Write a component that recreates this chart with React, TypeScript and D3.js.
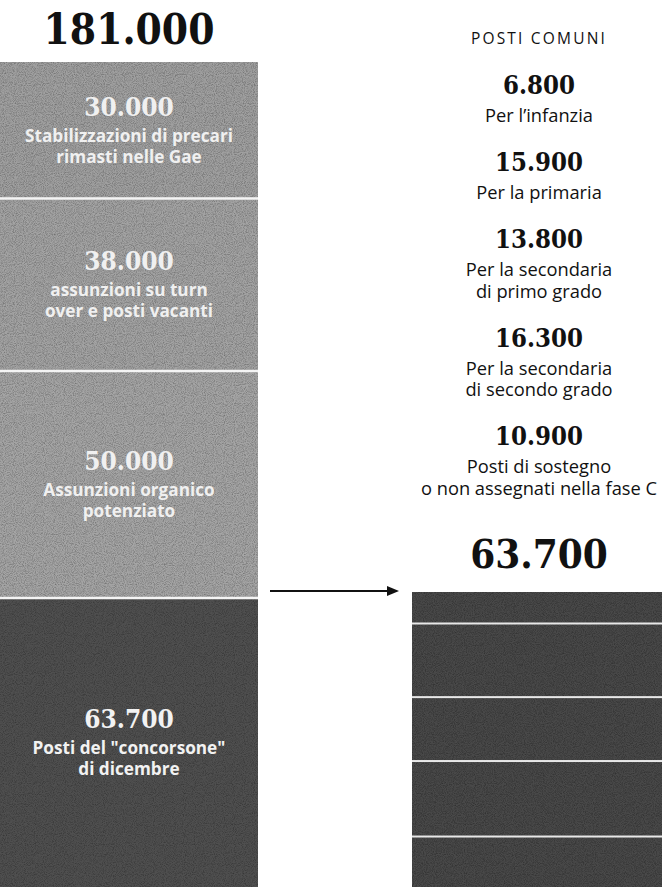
import React from "react";
import * as d3 from "d3";

const totalLabel = "181.000";
const leftValues = [30000, 38000, 50000, 63700];
const leftNumbers = ["30.000", "38.000", "50.000", "63.700"];
const leftLabels = [
  ["Stabilizzazioni di precari", "rimasti nelle Gae"],
  ["assunzioni su turn", "over e posti vacanti"],
  ["Assunzioni organico", "potenziato"],
  ["Posti del \"concorsone\"", "di dicembre"],
];

const rightTitle = "POSTI COMUNI";
const rightValues = [6800, 15900, 13800, 16300, 10900];
const rightNumbers = ["6.800", "15.900", "13.800", "16.300", "10.900"];
const rightLabels = [
  ["Per l\u2019infanzia"],
  ["Per la primaria"],
  ["Per la secondaria", "di primo grado"],
  ["Per la secondaria", "di secondo grado"],
  ["Posti di sostegno", "o non assegnati nella fase C"],
];
const rightTotalLabel = "63.700";

const W = 662;
const H = 887;
const SERIF = "'DejaVu Serif', 'Liberation Serif', serif";
const SANS = "'Open Sans', 'Noto Sans', sans-serif";

export default function App() {
  const leftTotal = d3.sum(leftValues);
  const yL = d3.scaleLinear().domain([0, leftTotal]).range([62, H]);
  const leftCum = d3.cumsum(leftValues);
  const leftSegs = leftValues.map((v, i) => ({
    y0: yL(leftCum[i] - v),
    y1: yL(leftCum[i]),
    i,
  }));

  const rightTotal = d3.sum(rightValues);
  const yR = d3.scaleLinear().domain([0, rightTotal]).range([592, H]);
  const rightCum = d3.cumsum(rightValues);
  const rightSegs = rightValues.map((v, i) => ({
    y0: yR(rightCum[i] - v),
    y1: yR(rightCum[i]),
  }));

  const xL = d3.scaleLinear().domain([0, 1]).range([0, 258]);
  const xR = d3.scaleLinear().domain([0, 1]).range([412, W]);
  const cxL = xL(0.5);
  const cxR = 539;

  let yCursor = 94;
  const rightBlocks = rightNumbers.map((n, i) => {
    const y = yCursor;
    yCursor += 28 + 21.5 * (rightLabels[i].length - 1) + 49;
    return { n, y, lines: rightLabels[i] };
  });

  const segFill = ["#a0a0a0", "#a3a3a3", "#a5a5a5", "#505050"];
  const textFill = ["#f0f0f0", "#f0f0f0", "#f0f0f0", "#f2f2f2"];

  return (
    <svg
      width={W}
      height={H}
      style={{ position: "absolute", left: 0, top: 0, background: "#fff" }}
    >
      <defs>
        <filter id="grain" x="0" y="0" width="100%" height="100%">
          <feTurbulence type="fractalNoise" baseFrequency="1.1" numOctaves="1" seed="5" result="noise" />
          <feColorMatrix
            in="noise"
            type="matrix"
            values="0 0 0 0 0  0 0 0 0 0  0 0 0 0 0  1.2 0 0 0 -0.45"
            result="dots"
          />
          <feComposite in="dots" in2="SourceGraphic" operator="atop" />
        </filter>
      </defs>
      <rect x={0} y={0} width={W} height={H} fill="#fff" />

      <text
        x={cxL}
        y={44}
        textAnchor="middle"
        fontFamily={SERIF}
        fontStretch="condensed"
        fontWeight="bold"
        fontSize={42}
        fill="#111"
      >
        {totalLabel}
      </text>

      {leftSegs.map((s) => (
        <rect
          key={"l" + s.i}
          x={xL(0)}
          y={s.y0}
          width={xL(1) - xL(0)}
          height={s.y1 - s.y0}
          fill={segFill[s.i]}
          filter="url(#grain)"
        />
      ))}
      {leftSegs.slice(1).map((s) => (
        <rect key={"ls" + s.i} x={xL(0)} y={s.y0 - 1} width={xL(1) - xL(0)} height={2.5} fill="#f4f4f4" />
      ))}
      {leftSegs.map((s) => {
        const mid = (s.y0 + s.y1) / 2;
        const by = mid - 14;
        return (
          <g key={"lt" + s.i} fill={textFill[s.i]} textAnchor="middle">
            <text x={cxL} y={by} fontFamily={SERIF} fontStretch="condensed" fontWeight="bold" fontSize={26}>
              {leftNumbers[s.i]}
            </text>
            {leftLabels[s.i].map((l, j) => (
              <text key={j} x={cxL} y={by + 26 + j * 21} fontFamily={SANS} fontWeight="bold" fontSize={17.2}>
                {l}
              </text>
            ))}
          </g>
        );
      })}

      <line x1={270} x2={390} y1={591} y2={591} stroke="#111" strokeWidth={2} />
      <path d="M387,586 L399,591 L387,596 Z" fill="#111" />

      <text x={cxR} y={44} textAnchor="middle" fontFamily={SANS} fontSize={15.5} letterSpacing={2.2} fill="#111">
        {rightTitle}
      </text>
      {rightBlocks.map((b, i) => (
        <g key={"rb" + i} textAnchor="middle" fill="#111">
          <text x={cxR} y={b.y} fontFamily={SERIF} fontStretch="condensed" fontWeight="bold" fontSize={25.5}>
            {b.n}
          </text>
          {b.lines.map((l, j) => (
            <text key={j} x={cxR} y={b.y + 28 + j * 21.5} fontFamily={SANS} fontSize={18.3}>
              {l}
            </text>
          ))}
        </g>
      ))}
      <text
        x={cxR}
        y={568}
        textAnchor="middle"
        fontFamily={SERIF}
        fontStretch="condensed"
        fontWeight="bold"
        fontSize={40}
        fill="#111"
      >
        {rightTotalLabel}
      </text>

      {rightSegs.map((s, i) => (
        <rect
          key={"r" + i}
          x={xR(0)}
          y={s.y0}
          width={xR(1) - xR(0)}
          height={s.y1 - s.y0}
          fill="#484848"
          filter="url(#grain)"
        />
      ))}
      {rightSegs.slice(1).map((s, i) => (
        <rect key={"rs" + i} x={xR(0)} y={s.y0 - 1} width={xR(1) - xR(0)} height={2} fill="#e8e8e8" />
      ))}
    </svg>
  );
}
